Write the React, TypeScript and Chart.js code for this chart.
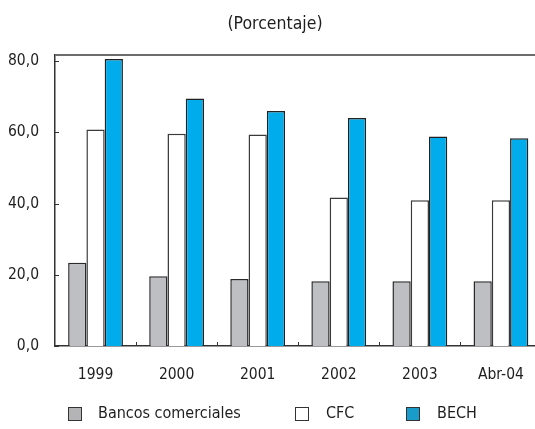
import React, { useEffect, useRef } from "react";
import { Chart, registerables } from "chart.js";

Chart.register(...registerables);

// Share of each institution type, in percent
const categories = ["1999", "2000", "2001", "2002", "2003", "Abr-04"];
const bancosComerciales = [23.4, 19.6, 18.8, 18.2, 18.2, 18.2];
const cfc = [60.8, 59.6, 59.4, 41.7, 40.9, 40.9];
const bech = [80.6, 69.5, 66.0, 64.0, 58.8, 58.3];
const yTickValues = [0, 20, 40, 60, 80];

const FONT = '"Liberation Sans Narrow", "DejaVu Sans Condensed", "Arial Narrow", sans-serif';
const TEXT = "#1e1e1e";

// Top rule plus short inward tick marks on both axes
const framePlugin = {
  id: "frame",
  afterDatasetsDraw(chart: any) {
    const { ctx, chartArea, scales } = chart;
    const { left, right, top, bottom } = chartArea;
    const x = scales.x;
    const y = scales.y;
    ctx.save();
    ctx.strokeStyle = "#6c6c6c";
    ctx.lineWidth = 2;
    ctx.beginPath();
    ctx.moveTo(left, top);
    ctx.lineTo(right + 10, top);
    ctx.stroke();

    ctx.strokeStyle = "#333";
    ctx.lineWidth = 1;
    ctx.beginPath();
    yTickValues.forEach((v) => {
      const py = Math.round(y.getPixelForValue(v)) + 0.5;
      ctx.moveTo(left, py);
      ctx.lineTo(left + 4, py);
    });
    for (let i = 1; i < categories.length; i++) {
      const px = Math.round((x.getPixelForValue(i - 1) + x.getPixelForValue(i)) / 2) + 0.5;
      ctx.moveTo(px, bottom);
      ctx.lineTo(px, bottom - 4);
    }
    ctx.stroke();
    ctx.restore();
  },
};

const legendItems = [
  { label: "Bancos comerciales", color: "#b4b4b6", left: 68, textLeft: 98 },
  { label: "CFC", color: "#ffffff", left: 295, textLeft: 326 },
  { label: "BECH", color: "#1a9ccb", left: 406, textLeft: 437 },
];

export default function App() {
  const canvasRef = useRef<HTMLCanvasElement | null>(null);

  useEffect(() => {
    const canvas = canvasRef.current;
    if (!canvas) return;
    const chart = new Chart(canvas, {
      type: "bar",
      data: {
        labels: categories,
        datasets: [
          {
            label: "Bancos comerciales",
            data: bancosComerciales,
            backgroundColor: "#bebfc3",
            borderColor: "#2a2a2a",
            borderWidth: 1.5,
          },
          {
            label: "CFC",
            data: cfc,
            backgroundColor: "#ffffff",
            borderColor: "#3a3a3a",
            borderWidth: 1.5,
          },
          {
            label: "BECH",
            data: bech,
            backgroundColor: "#00acec",
            borderColor: "#222222",
            borderWidth: 1.5,
          },
        ],
      },
      options: {
        responsive: false,
        animation: false,
        layout: { padding: { left: 0, top: 55, right: 1.5, bottom: 43 } },
        datasets: {
          bar: { barPercentage: 1, categoryPercentage: 0.676 },
        },
        plugins: {
          legend: { display: false },
          tooltip: { enabled: false },
          title: { display: false },
        },
        scales: {
          x: {
            grid: { display: false, drawTicks: false },
            border: { color: "#333", width: 1.5 },
            ticks: {
              color: TEXT,
              font: { family: FONT, size: 15.5 },
              padding: 20,
              maxRotation: 0,
              autoSkip: false,
            },
            afterFit(scale: any) {
              scale.height = 40;
            },
          },
          y: {
            min: 0,
            max: 81.7,
            grid: { display: false, drawTicks: false },
            border: { color: "#333", width: 1.5 },
            afterBuildTicks(scale: any) {
              scale.ticks = yTickValues.map((v) => ({ value: v }));
            },
            ticks: {
              color: TEXT,
              font: { family: FONT, size: 15.5 },
              padding: 16,
              callback: (v: any) => Number(v).toFixed(1).replace(".", ","),
            },
            afterFit(scale: any) {
              scale.width = 55;
            },
          },
        },
      },
      plugins: [framePlugin],
    });
    return () => chart.destroy();
  }, []);

  return (
    <div
      style={{
        position: "fixed",
        left: 0,
        top: 0,
        width: 535,
        height: 429,
        overflow: "hidden",
        background: "#fff",
        fontFamily: FONT,
        color: TEXT,
      }}
    >
      <div
        style={{
          position: "absolute",
          left: 0,
          top: 12,
          width: 550,
          textAlign: "center",
          fontSize: 17.5,
          lineHeight: "22px",
        }}
      >
        (Porcentaje)
      </div>
      <canvas ref={canvasRef} width={544} height={429} style={{ display: "block" }} />
      {legendItems.map((item) => (
        <React.Fragment key={item.label}>
          <div
            style={{
              position: "absolute",
              left: item.left,
              top: 407,
              width: 12,
              height: 12,
              background: item.color,
              border: "1px solid #333",
            }}
          />
          <div
            style={{
              position: "absolute",
              left: item.textLeft,
              top: 403,
              fontSize: 16,
              lineHeight: "20px",
              whiteSpace: "nowrap",
            }}
          >
            {item.label}
          </div>
        </React.Fragment>
      ))}
    </div>
  );
}
